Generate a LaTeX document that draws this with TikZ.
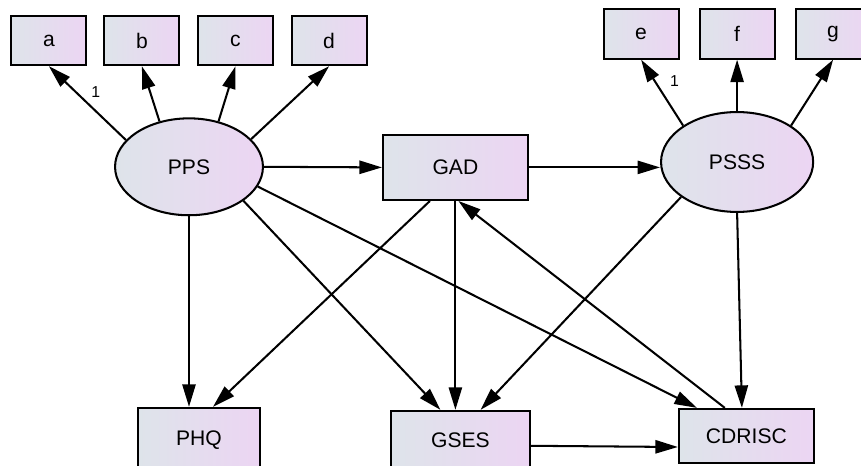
\documentclass[tikz,border=0pt]{standalone}
\usepackage{fontspec}
\setmainfont{Liberation Sans}
\usepackage{tikz}
\usetikzlibrary{arrows.meta, calc, positioning, shapes.geometric}
\definecolor{boxleft}{RGB}{222,228,234}
\definecolor{boxright}{RGB}{236,213,243}

\begin{document}
\begin{tikzpicture}[>={Triangle[length=0.75cm, width=0.44cm]}, line width=0.068cm,
    obs/.style={draw, rectangle, left color=boxleft, right color=boxright, inner sep=0pt, font=\fontsize{20}{22}\selectfont},
    lat/.style={draw, ellipse, left color=boxleft, right color=boxright, inner sep=0pt, font=\fontsize{20}{22}\selectfont},
    ind/.style={obs, minimum width=2.5cm, minimum height=1.65cm},
    lbl/.style={font=\fontsize{15}{17}\selectfont, inner sep=1pt}]
    \useasboundingbox (0, 0) rectangle (28.7, 15.53);
    \clip (0, 0) rectangle (28.7, 15.53);

    % Biến tiềm ẩn và GAD
    \node[lat, minimum width=4.93cm, minimum height=3.23cm] (pps) at (6.3, 9.97) {PPS};
    \node[obs, minimum width=4.83cm, minimum height=2.17cm] (gad) at (15.18, 9.95) {GAD};
    \node[lat, minimum width=5.07cm, minimum height=3.33cm] (psss) at (24.57, 10.13) {PSSS};

    % Các chỉ báo
    \node[ind] (a) at (1.63, 14.18) {a};
    \node[ind] (b) at (4.73, 14.18) {b};
    \node[ind] (c) at (7.85, 14.18) {c};
    \node[ind] (d) at (10.97, 14.18) {d};
    \node[ind] (e) at (21.37, 14.4) {e};
    \node[ind] (f) at (24.57, 14.4) {f};
    \node[ind] (g) at (27.77, 14.4) {g};

    % Biến kết quả
    \node[obs, minimum width=4.07cm, minimum height=2.13cm] (phq) at (6.63, 0.87) {PHQ};
    \node[obs, minimum width=4.63cm, minimum height=1.93cm] (gses) at (15.35, 0.87) {GSES};
    \node[obs, minimum width=4.5cm, minimum height=1.8cm] (cdrisc) at (24.88, 1.0) {CDRISC};

    % Mũi tên đo lường
    \draw[->] (pps.157) -- (a.south) node[lbl, pos=0.65, right=0.45cm] {1};
    \draw[->] (pps.123) -- (b.south);
    \draw[->] (pps.57) -- (c.south);
    \draw[->] (pps.24) -- (d.south);
    \draw[->] (psss.146) -- (e.south) node[lbl, pos=0.68, right=0.45cm] {1};
    \draw[->] (psss.north) -- (f.south);
    \draw[->] (psss.34) -- (g.south);

    % Mũi tên cấu trúc
    \draw[->] (pps.east) -- (gad.west);
    \draw[->] (gad.east) -- (gad.east -| psss.west);
    \draw[->] (pps.south) -- (pps.south |- phq.north);
    \draw[->] ([xshift=-0.85cm]gad.south) -- ([xshift=0.47cm]phq.north);
    \draw[->] (pps.-32) -- ([xshift=-0.67cm]gses.north);
    \draw[->] (gad.south) -- (gad.south |- gses.north);
    \draw[->] (psss.-148) -- ([xshift=0.67cm]gses.north);
    \draw[->] (pps.-16) -- ([xshift=-1.65cm]cdrisc.north);
    \draw[->] ([xshift=-0.72cm]cdrisc.north) -- ([xshift=0.1cm]gad.south);
    \draw[->] (psss.south) -- ([xshift=-0.15cm]cdrisc.north);
    \draw[->] ([yshift=-0.2cm]gses.east) -- ([yshift=-0.37cm]cdrisc.west);
\end{tikzpicture}
\end{document}
